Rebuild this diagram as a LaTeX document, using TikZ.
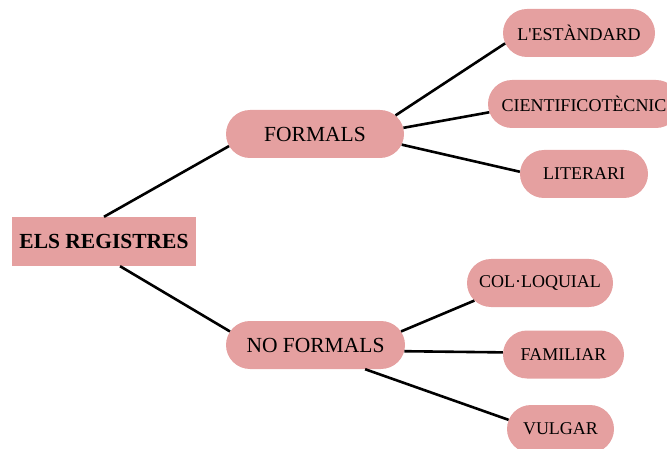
\documentclass[tikz,border=0pt]{standalone}
\usepackage{fontspec}
\setmainfont{Liberation Serif}
\usetikzlibrary{shapes.misc}
\definecolor{regpink}{RGB}{229,160,160}
\tikzset{
  leaf/.style={rounded rectangle, fill=regpink, minimum height=48pt, inner xsep=0pt, font=\fontsize{18}{20}\selectfont},
  mid/.style={leaf, font=\fontsize{21.5}{24}\selectfont},
  rootbox/.style={rectangle, fill=regpink, minimum width=184pt, minimum height=49pt, inner sep=0pt, font=\bfseries\fontsize{21.5}{24}\selectfont},
  link/.style={line width=2.6pt}
}

\begin{document}
\begin{tikzpicture}[x=1pt,y=-1pt]
\useasboundingbox (0,0) rectangle (667,449);
\node[rootbox] (reg) at (104,241.5) {ELS REGISTRES};
	\node[mid,minimum width=178pt] (formals) at (315,134) {FORMALS};
	\node[mid,minimum width=179pt] (noformals) at (315.5,345) {NO FORMALS};
	% formals
	\node[leaf,minimum width=152pt] (estandard) at (579,33) {L\textquotesingle ESTÀNDARD};
	\node[leaf,minimum width=192pt] (cientif) at (584,104) {CIENTIFICOTÈCNIC};
	\node[leaf,minimum width=128pt] (literari) at (584,174) {LITERARI};
	% no formals
	\node[leaf,minimum width=146pt] (colloq) at (540,283) {COL·LOQUIAL};
	\node[leaf,minimum width=121pt] (familiar) at (563.5,354.5) {FAMILIAR};
	\node[leaf,minimum width=107pt] (vulgar) at (560.5,429) {VULGAR};

	\draw[link] (reg.north) -- (formals.188);
	\draw[link] (reg.-57) -- (noformals.171);
	\draw[link] (formals.13) -- (estandard.188);
	\draw[link] (formals.4) -- (cientif.185);
	\draw[link] (formals.-7) -- (literari.178);
	\draw[link] (noformals.9) -- (colloq.195);
	\draw[link] (noformals.-4) -- (familiar.178);
	\draw[link] (noformals.-26) -- (vulgar.170);
\end{tikzpicture}
\end{document}
